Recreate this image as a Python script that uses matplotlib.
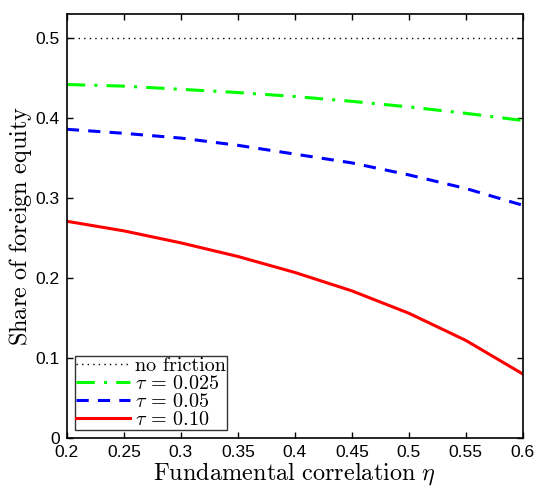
import matplotlib
matplotlib.use("Agg")
import matplotlib.pyplot as plt

eta = [0.2, 0.25, 0.3, 0.35, 0.4, 0.45, 0.5, 0.55, 0.6]
no_friction = [0.5] * 9
tau_0025 = [0.442, 0.440, 0.436, 0.432, 0.427, 0.421, 0.414, 0.406, 0.397]
tau_005 = [0.386, 0.381, 0.375, 0.366, 0.355, 0.344, 0.329, 0.312, 0.291]
tau_010 = [0.271, 0.259, 0.244, 0.227, 0.207, 0.184, 0.156, 0.122, 0.080]

xticks = [0.2, 0.25, 0.3, 0.35, 0.4, 0.45, 0.5, 0.55, 0.6]
xticklabels = ["0.2", "0.25", "0.3", "0.35", "0.4", "0.45", "0.5", "0.55", "0.6"]
yticks = [0, 0.1, 0.2, 0.3, 0.4, 0.5]
yticklabels = ["0", "0.1", "0.2", "0.3", "0.4", "0.5"]

plt.rcParams['mathtext.fontset'] = 'cm'

fig = plt.figure(figsize=(5.39, 4.88), dpi=100)
ax = fig.add_axes([0.124, 0.1025, 0.846, 0.8685])

ax.plot(eta, no_friction, color='black', linestyle=(0, (1, 3)), linewidth=1.0, label='no friction')
ax.plot(eta, tau_0025, color='#00ff00', linestyle=(0, (6, 3, 1, 3)), linewidth=2.2, label=r'$\tau\,=\,0.025$')
ax.plot(eta, tau_005, color='#0000ff', linestyle=(0, (4, 3)), linewidth=2.2, label=r'$\tau\,=\,0.05$')
ax.plot(eta, tau_010, color='#ff0000', linestyle='-', linewidth=2.2, label=r'$\tau\,=\,0.10$')

ax.set_xlim(0.2, 0.6)
ax.set_ylim(0, 0.53)
ax.set_xticks(xticks)
ax.set_xticklabels(xticklabels, fontsize=12.5, family='Liberation Sans')
ax.set_yticks(yticks)
ax.set_yticklabels(yticklabels, fontsize=12.5, family='Liberation Sans')
ax.tick_params(direction='in', top=True, right=True, length=4, width=1)
ax.tick_params(axis='x', pad=5)
ax.tick_params(axis='y', pad=5)
for s in ax.spines.values():
    s.set_linewidth(1.2)

ax.set_xlabel(r'$\mathrm{Fundamental\ correlation}\ \eta$', fontsize=17.5, labelpad=0)
ax.set_ylabel(r'$\mathrm{Share\ of\ foreign\ equity}$', fontsize=17.5, labelpad=1)

leg = ax.legend(loc='lower left', frameon=True, fancybox=False,
                edgecolor='black', handlelength=2.7, handletextpad=0.25,
                borderpad=0.05, labelspacing=0.0, borderaxespad=0.4,
                prop={'family': 'cmr10', 'size': 14.5})
leg.get_frame().set_linewidth(1.0)

fig.savefig('out.png', dpi=100)
